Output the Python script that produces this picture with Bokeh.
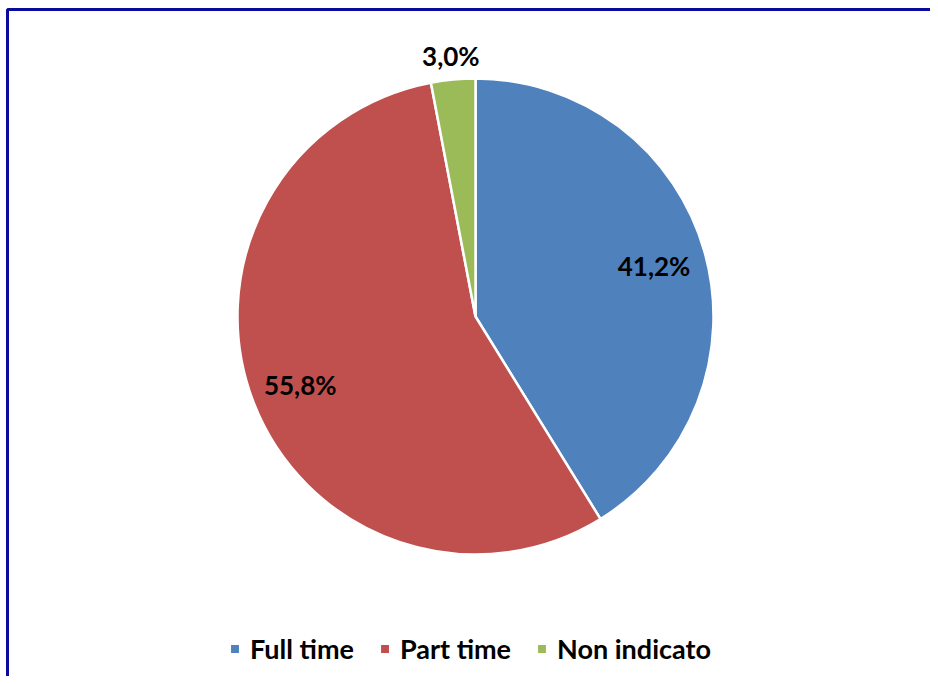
import numpy as np
from bokeh.plotting import figure
from bokeh.models import ColumnDataSource, Range1d, BoxAnnotation, Legend, LegendItem
from bokeh.core.properties import value
from bokeh.embed import file_html
from bokeh.resources import INLINE

categories = ["Full time", "Part time", "Non indicato"]
shares = [41.2, 55.8, 3.0]
labels = ["41,2%", "55,8%", "3,0%"]
colors = ["#4F81BD", "#C0504D", "#9BBB59"]
label_radius = [0.78, 0.79, 1.10]

W, H = 930, 676
p = figure(width=W, height=H, output_backend="svg", toolbar_location=None,
           x_range=Range1d(0, W), y_range=Range1d(0, H), min_border=0)
p.axis.visible = False
p.grid.visible = False
p.outline_line_color = None
p.background_fill_color = "white"
p.border_fill_color = "white"

cx, cy, R = 475, H - 316, 238
frac = np.array(shares) / sum(shares)
cum = np.concatenate([[0], np.cumsum(frac)])
start = np.pi / 2 - cum[:-1] * 2 * np.pi
end = np.pi / 2 - cum[1:] * 2 * np.pi
mid = (start + end) / 2
lr = np.array(label_radius) * R

src = ColumnDataSource(dict(
    cat=categories, start=start, end=end, color=colors, lab=labels,
    lx=cx + lr * np.cos(mid), ly=cy + lr * np.sin(mid),
))

r = p.wedge(x=cx, y=cy, radius=R, start_angle="start", end_angle="end",
            direction="clock", fill_color="color", line_color="white",
            line_width=2.5, source=src)

p.text(x="lx", y="ly", text="lab", source=src, text_align="center",
       text_baseline="middle", text_font=value("Lato"), text_font_style="bold",
       text_font_size="26px", text_color="black")

# chart border (only left and top edges fall inside the view)
p.add_layout(BoxAnnotation(left=7, top=H - 9, right=W + 20, bottom=-20,
                           fill_alpha=0, line_color="#0A0A9E", line_alpha=1.0,
                           line_width=3))

items = [LegendItem(label=c, renderers=[r], index=i) for i, c in enumerate(categories)]
legend = Legend(items=items, orientation="horizontal", location=(228, 11),
                label_text_font="Lato", label_text_font_style="bold",
                label_text_font_size="27px", label_text_color="black",
                glyph_width=13, glyph_height=13, label_standoff=9, spacing=24,
                padding=0, margin=0, border_line_alpha=0, background_fill_alpha=0,
                label_height=32)
p.add_layout(legend, "center")

open("out.html", "w").write(file_html(p, INLINE))
